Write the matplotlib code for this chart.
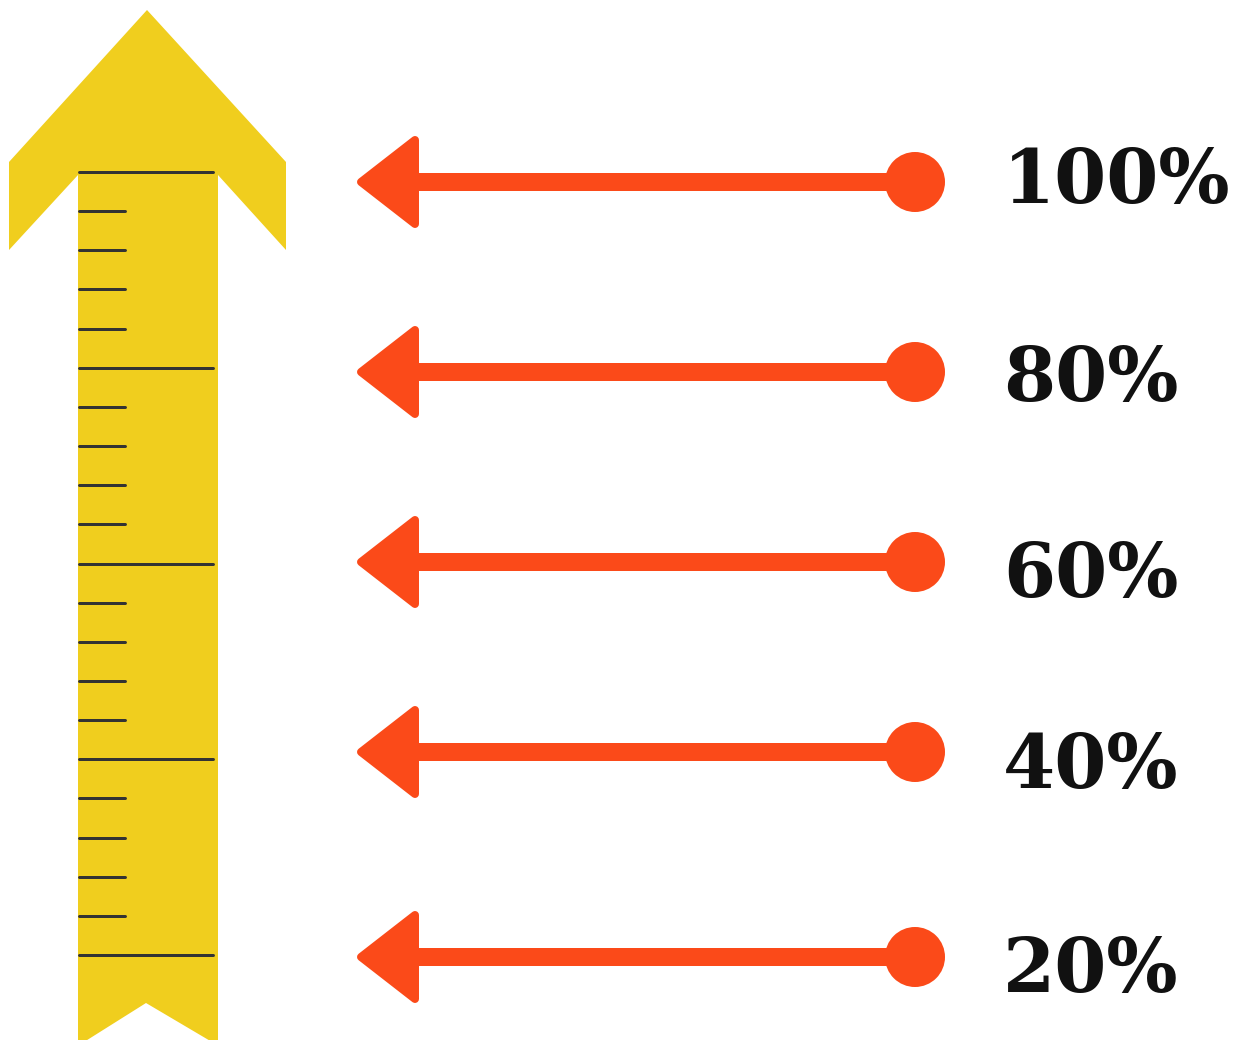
import matplotlib
matplotlib.use("Agg")
import matplotlib.pyplot as plt
from matplotlib.patches import Polygon, Circle, Rectangle
import numpy as np

# ---- data ----
percent_values = [100, 80, 60, 40, 20]
percent_labels = ["100%", "80%", "60%", "40%", "20%"]
# ruler: major ticks every 20 units, minor ticks every 4 units
ruler_major = [100, 80, 60, 40, 20]
ruler_minor = [96, 92, 88, 84, 76, 72, 68, 64, 56, 52, 48, 44, 36, 32, 28, 24]

# ---- layout (pixels) ----
W, H = 1244, 1040
YELLOW = "#F0CE1E"
ORANGE = "#FB4A19"
TICK = "#333333"

# ruler value -> pixel y (100 at 172, 20 at 955)
def ruler_y(v):
    return 172 + (100 - v) * (955 - 172) / 80.0

arrow_y = [182, 372, 562, 752, 957]
label_baseline = [203, 401, 597, 788, 992]

fig = plt.figure(figsize=(W / 100, H / 100), dpi=100)
ax = fig.add_axes([0, 0, 1, 1])
ax.set_xlim(0, W)
ax.set_ylim(H, 0)
ax.axis("off")

px = 72.0 / 100.0  # points per pixel

# yellow ruler arrow
shape = [(147, 10), (286, 162), (286, 250), (218, 175), (218, H + 2),
         (212, H + 2), (146, 1003), (84, H + 2), (78, H + 2), (78, 175),
         (9, 250), (9, 162)]
ax.add_patch(Polygon(shape, closed=True, facecolor=YELLOW, edgecolor="none"))

for v in ruler_major:
    y = ruler_y(v)
    ax.plot([79, 213], [y, y], color=TICK, lw=3 * px, solid_capstyle="round")
for v in ruler_minor:
    y = ruler_y(v)
    ax.plot([79, 125], [y, y], color=TICK, lw=3 * px, solid_capstyle="round")

# orange arrows with labels
for y, lab, base in zip(arrow_y, percent_labels, label_baseline):
    ax.add_patch(Rectangle((414, y - 9), 915 - 414, 18, facecolor=ORANGE,
                           edgecolor="none"))
    head = [(361, y), (415, y - 42), (415, y + 42)]
    ax.add_patch(Polygon(head, closed=True, facecolor=ORANGE, edgecolor=ORANGE,
                         lw=8 * px, joinstyle="round"))
    ax.add_patch(Circle((915, y), 30, facecolor=ORANGE, edgecolor="none"))
    ax.text(1003, base, lab, fontsize=54, fontfamily="DejaVu Serif",
            fontweight="bold", color="#111111", ha="left", va="baseline")

fig.savefig("out.png", dpi=100, facecolor="white")
